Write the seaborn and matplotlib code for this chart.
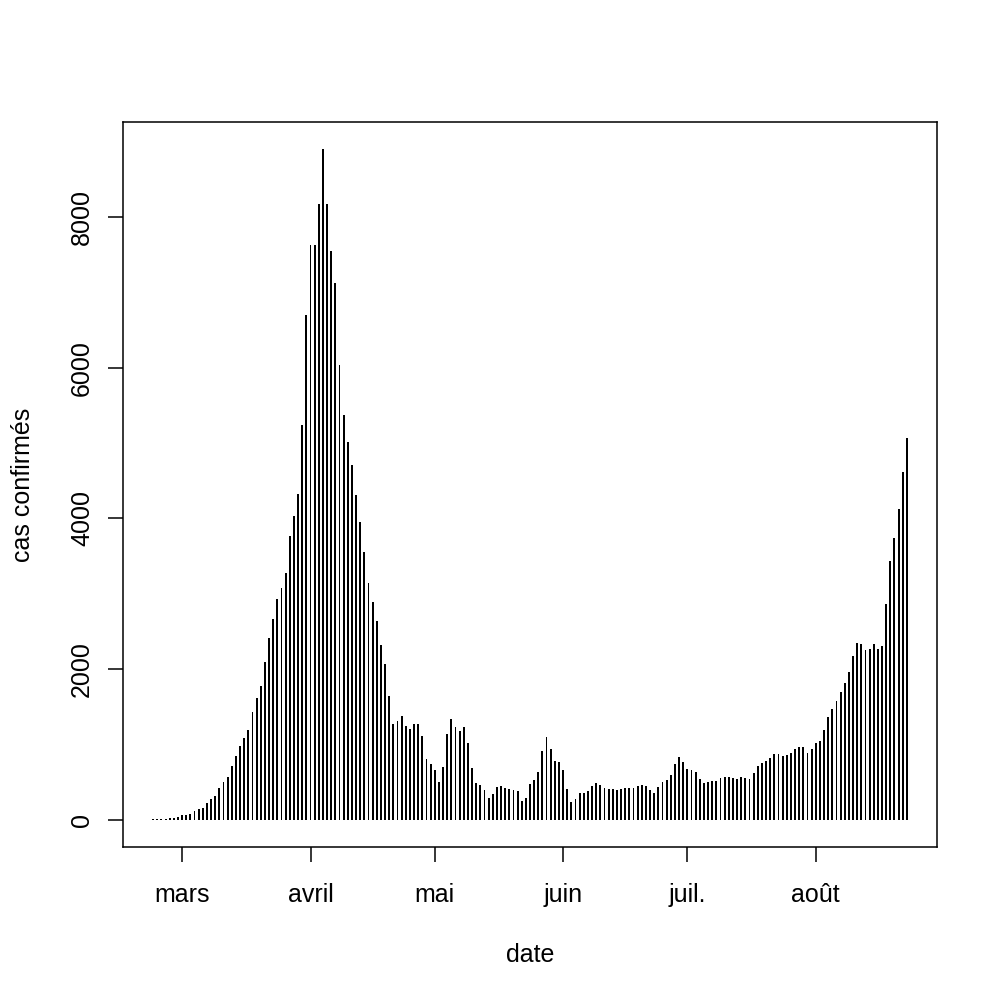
import pandas as pd
import matplotlib
matplotlib.use("Agg")
import matplotlib.pyplot as plt
import matplotlib.dates as mdates
import seaborn as sns

# daily confirmed cases, one value per day starting at first_day
first_day = "2020-02-23"
cases = [
    13, 13, 13, 18, 27, 31, 40, 62, 67, 75,
    115, 142, 160, 231, 280, 315, 421, 510, 577, 723,
    847, 980, 1091, 1198, 1433, 1620, 1780, 2094, 2414, 2671,
    2932, 3084, 3278, 3772, 4036, 4318, 5240, 6691, 7626, 7626,
    8172, 8900, 8172, 7549, 7126, 6040, 5370, 5017, 4712, 4306,
    3948, 3558, 3143, 2886, 2638, 2323, 2070, 1642, 1272, 1308,
    1376, 1254, 1209, 1272, 1272, 1114, 807, 744, 663, 510,
    708, 1141, 1335, 1231, 1186, 1231, 1024, 686, 498, 465,
    399, 288, 346, 439, 453, 430, 408, 395, 390, 253,
    297, 484, 537, 643, 918, 1100, 945, 790, 772, 661,
    408, 240, 284, 364, 355, 390, 457, 488, 466, 421,
    413, 413, 404, 413, 430, 430, 430, 448, 466, 457,
    395, 364, 435, 506, 537, 603, 741, 839, 768, 683,
    670, 634, 550, 493, 506, 524, 524, 559, 577, 577,
    559, 550, 568, 555, 550, 626, 714, 759, 781, 825,
    879, 879, 856, 861, 896, 941, 967, 967, 892, 941,
    1025, 1043, 1194, 1371, 1473, 1580, 1695, 1824, 1966, 2179,
    2347, 2329, 2254, 2267, 2338, 2263, 2312, 2866, 3430, 3740,
    4131, 4610, 5067,
]
month_starts = ["2020-03-01", "2020-04-01", "2020-05-01", "2020-06-01", "2020-07-01", "2020-08-01"]
month_labels = ["mars", "avril", "mai", "juin", "juil.", "août"]
y_ticks = [0, 2000, 4000, 6000, 8000]

sns.set_theme(style="white")
plt.rcParams['font.family'] = ['Liberation Sans', 'DejaVu Sans']

dates = pd.date_range(first_day, periods=len(cases), freq="D")
df = pd.DataFrame({"date": mdates.date2num(dates), "cas": cases})

fig = plt.figure(figsize=(10, 10), dpi=100)
ax = fig.add_axes([0.123, 0.153, 0.814, 0.725])

sns.barplot(data=df, x="date", y="cas", native_scale=True, width=0.45,
            color="black", saturation=1, errorbar=None, linewidth=0, ax=ax)

# R style 4% padding around data range
span = df["date"].max() - df["date"].min()
ax.set_xlim(df["date"].min() - 0.04 * span, df["date"].max() + 0.04 * span)
ymax = max(cases)
ax.set_ylim(-0.04 * ymax, 1.04 * ymax)

ax.set_xticks(mdates.date2num(pd.to_datetime(month_starts)))
ax.set_xticklabels(month_labels)
ax.set_yticks(y_ticks)
ax.set_yticklabels([str(v) for v in y_ticks], rotation=90, va="center")

ax.tick_params(axis="both", direction="out", length=10.8, width=1.1, color="black",
               labelsize=18, labelcolor="black", bottom=True, left=True)
ax.tick_params(axis="x", pad=15)
ax.tick_params(axis="y", pad=10)
for s in ax.spines.values():
    s.set_visible(True)
    s.set_color("black")
    s.set_linewidth(1.1)

ax.set_xlabel("date", fontsize=18, color="black", labelpad=26)
ax.set_ylabel("cas confirmés", fontsize=18, color="black", labelpad=25)

fig.savefig("out.png", dpi=100)
